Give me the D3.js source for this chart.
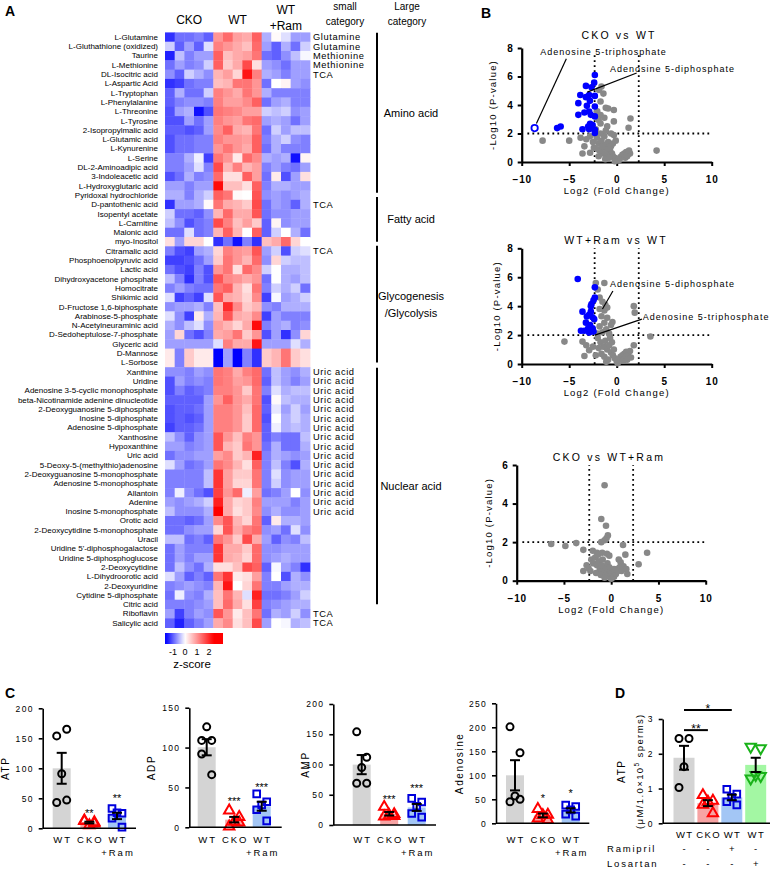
<!DOCTYPE html>
<html>
<head>
<meta charset="utf-8">
<script src="https://cdn.jsdelivr.net/npm/d3@7"></script>
<style>
  body { margin: 0; background: #fff; }
  text { font-family: "Liberation Sans", Arial, sans-serif; fill: #000; }
</style>
</head>
<body>
<svg id="fig" width="775" height="875"></svg>
<script>
// ---------- data: heatmap (A) ----------
const metabolites = [
  "L-Glutamine", "L-Gluthathione (oxidized)", "Taurine", "L-Methionine", "DL-Isocitric acid",
  "L-Aspartic Acid", "L-Tryptophan", "L-Phenylalanine", "L-Threonine", "L-Tyrosine",
  "2-Isopropylmalic acid", "L-Glutamic acid", "L-Kynurenine", "L-Serine", "DL-2-Aminoadipic acid",
  "3-Indoleacetic acid", "L-Hydroxyglutaric acid", "Pyridoxal hydrochloride", "D-pantothenic acid",
  "Isopentyl acetate", "L-Carnitine", "Malonic acid", "myo-Inositol", "Citramalic acid",
  "Phosphoenolpyruvic acid", "Lactic acid", "Dihydroxyacetone phosphate", "Homocitrate",
  "Shikimic acid", "D-Fructose 1,6-biphosphate", "Arabinose-5-phosphate", "N-Acetylneuraminic acid",
  "D-Sedoheptulose-7-phosphate", "Glyceric acid", "D-Mannose", "L-Sorbose", "Xanthine", "Uridine",
  "Adenosine 3-5-cyclic monophosphate", "beta-Nicotinamide adenine dinucleotide",
  "2-Deoxyguanosine 5-diphosphate", "Inosine 5-diphosphate", "Adenosine 5-diphosphate", "Xanthosine",
  "Hypoxanthine", "Uric acid", "5-Deoxy-5-(methylthio)adenosine", "2-Deoxyguanosine 5-monophosphate",
  "Adenosine 5-monophosphate", "Allantoin", "Adenine", "Inosine 5-monophosphate", "Orotic acid",
  "2-Deoxycytidine 5-monophosphate", "Uracil", "Uridine 5'-diphosphogalactose",
  "Uridine 5-diphosphoglucose", "2-Deoxycytidine", "L-Dihydroorotic acid", "2-Deoxyuridine",
  "Cytidine 5-diphosphate", "Citric acid", "Riboflavin", "Salicylic acid"
];

const smallCategory = [
  "Glutamine", "Glutamine", "Methionine", "Methionine", "TCA", "", "", "", "", "", "", "", "", "", "", "", "", "",
  "TCA", "", "", "", "", "TCA", "", "", "", "", "", "", "", "", "", "", "", "",
  "Uric acid", "Uric acid", "Uric acid", "Uric acid", "Uric acid", "Uric acid", "Uric acid", "Uric acid",
  "Uric acid", "Uric acid", "Uric acid", "Uric acid", "Uric acid", "Uric acid", "Uric acid", "Uric acid",
  "", "", "", "", "", "", "", "", "", "", "TCA", "TCA"
];

// spans in row units (row index of start / end of the bracket line)
const largeCategory = [
  { label: ["Amino acid"], from: -0.45, to: 16.75 },
  { label: ["Fatty acid"], from: 17.2, to: 22.0 },
  { label: ["Glycogenesis", "/Glycolysis"], from: 22.45, to: 35.0 },
  { label: ["Nuclear acid"], from: 35.55, to: 61.0 }
];

const sampleGroups = ["CKO", "WT", "WT+Ram"];

// z-scores, 5 CKO | 5 WT | 5 WT+Ram
const zScores = [
  [-1.3,-0.9,-0.9,-0.8,-1.0, 1.0,1.4,0.9,0.8,1.5, -0.5,0.05,-0.2,-0.6,-0.6],
  [-0.3,-1.0,-0.6,-1.0,-0.2, 1.2,1.0,0.8,0.6,1.4, -0.6,-1.0,-0.5,-0.9,-0.3],
  [-1.4,-0.4,-0.8,-0.6,-0.6, 1.5,0.6,0.8,0.9,1.3, -0.9,-1.0,-0.7,-0.4,-0.05],
  [-0.9,-0.6,-0.8,-0.7,-0.3, 1.5,0.5,0.8,1.7,0.3, -0.6,-0.7,-0.9,-0.6,-0.6],
  [-0.7,-1.0,-0.3,-0.5,-0.7, 0.7,0.9,0.4,2.2,1.2, -0.5,-0.6,-0.8,-0.6,-0.6],
  [-1.3,-1.2,-0.9,-0.8,-0.8, 0.6,0.7,1.3,1.3,1.0, -0.9,0.0,0.1,-0.6,-0.7],
  [-1.0,-0.5,-0.9,-0.9,-0.3, 1.2,1.0,0.8,1.3,1.0, -0.5,-0.8,-0.8,-0.8,-0.8],
  [-1.0,-0.8,-0.7,-0.7,-0.8, 1.2,0.9,0.9,1.1,1.5, -0.9,-0.6,-0.5,-0.8,-0.8],
  [-1.1,-0.6,-0.5,-1.5,-1.1, 1.3,1.2,1.1,0.9,0.9, -0.3,-0.4,-0.3,-0.7,-0.6],
  [-1.1,-1.1,-0.6,-0.9,-0.6, 1.2,1.0,0.9,1.3,1.4, -0.6,-0.5,-0.6,-0.9,-0.6],
  [-1.0,-1.0,-1.1,-1.0,-0.6, 1.1,1.5,0.8,0.7,1.3, -0.9,-0.3,-0.6,-0.4,-0.4],
  [-1.1,-0.9,-0.9,-0.8,-0.8, 1.2,1.0,1.0,0.9,1.5, -0.8,-0.5,-0.3,-0.7,-0.8],
  [-1.1,-0.9,-0.9,-0.8,-0.8, 1.0,1.3,1.0,0.8,1.5, -0.9,-0.5,-0.8,-0.8,-0.8],
  [-0.8,-0.8,-0.5,-0.1,-1.2, 1.3,1.0,0.2,1.4,1.1, -0.5,-0.6,-0.5,-1.5,0.1],
  [-0.8,-0.8,-0.6,-0.2,-0.8, 1.7,0.7,1.2,0.7,0.9, -0.8,-0.6,-0.8,-0.9,-0.6],
  [-1.1,-0.9,-0.5,-0.8,-0.7, 1.4,0.3,0.3,1.5,0.9, -0.9,0.2,-1.1,-0.6,0.3],
  [-0.6,-0.6,-0.8,-0.6,-0.6, 2.3,0.6,0.6,0.3,1.5, -0.8,-0.5,-0.5,-0.6,-0.6],
  [-0.5,-0.5,-0.8,-0.5,-0.3, 1.5,1.3,0.05,0.0,1.6, -0.7,-0.6,-0.7,-0.6,-0.5],
  [-1.3,-0.6,-0.6,-0.5,0.05, 1.3,0.8,0.7,0.5,1.7, -0.9,-0.6,-0.7,-1.0,-0.5],
  [-0.3,-0.9,-0.9,-1.0,-0.7, 0.7,1.4,0.8,0.8,1.6, -0.9,-0.7,-0.7,-0.6,-0.6],
  [-0.4,-0.7,-1.1,-0.9,-0.8, 1.7,1.2,0.6,0.9,0.5, -1.0,0.1,-0.7,-0.6,-0.6],
  [-0.9,-0.9,-0.2,-0.9,-0.8, 0.7,1.5,0.7,0.0,1.5, -1.0,-0.3,0.0,-0.5,-0.9],
  [0.3,-0.6,0.4,0.4,0.0, -1.3,-0.9,-1.5,-0.8,-1.3, 0.6,0.8,1.4,0.4,0.0],
  [-0.8,-1.1,-1.2,-0.6,-0.5, 0.4,1.2,1.0,0.9,1.6, -0.6,-0.3,-1.1,-0.3,-0.2],
  [-1.2,-1.2,-1.1,-0.9,-0.6, 0.5,1.3,1.0,0.7,1.4, -0.7,0.4,-0.3,-0.4,-0.4],
  [-0.9,-1.1,-1.2,-0.8,-1.1, 1.0,1.3,0.3,1.4,1.1, -0.3,0.0,-0.5,-0.5,-0.4],
  [-0.4,-0.8,-1.3,-0.8,-1.1, 1.6,1.1,1.0,0.8,1.0, -0.9,0.0,-0.5,-0.6,-0.4],
  [-0.8,-0.6,-0.8,-0.9,-0.9, 1.3,1.5,0.7,0.3,1.3, -0.8,-0.3,-0.5,-0.3,-0.9],
  [-0.2,-1.2,-1.0,-1.2,-0.2, 1.6,0.8,0.7,0.4,1.1, -1.2,-0.05,-0.6,-0.5,-0.3],
  [-0.7,-0.6,-0.6,-0.5,-0.8, 0.6,2.0,1.1,0.5,0.7, -0.7,-0.8,-0.5,-0.5,-0.5],
  [-0.2,-0.7,-1.2,0.2,-0.5, 0.7,1.6,0.8,0.7,1.1, -1.2,-0.6,-0.8,-0.8,-0.8],
  [-0.5,-0.7,-0.4,-0.2,-0.7, 0.9,0.7,0.4,0.8,2.3, -0.8,-0.6,-0.5,-0.8,-0.7],
  [-0.6,0.4,-0.9,-1.1,-0.8, 0.8,0.9,1.3,0.5,1.0, -1.1,-0.6,-1.3,-0.7,0.4],
  [-0.6,-0.6,-0.6,-0.6,-0.6, -0.2,1.2,0.8,0.8,2.2, -0.6,-0.6,-0.6,-0.2,-0.5],
  [0.2,-0.8,0.5,0.2,0.2, -1.7,-0.6,-1.6,-0.8,-1.3, 0.5,0.7,1.3,0.5,0.3],
  [0.2,-0.8,0.5,0.2,0.2, -1.7,-0.6,-1.6,-0.8,-1.3, 0.5,0.7,1.3,0.5,0.3],
  [-0.7,-0.7,-0.8,-0.6,-0.7, 1.3,1.2,0.8,1.2,1.4, -0.9,-0.4,-0.6,-0.7,-0.5],
  [-1.1,-0.6,-0.8,-0.7,-0.8, 1.3,1.2,0.9,1.0,1.4, -1.0,-0.4,-0.6,-0.8,-0.6],
  [-1.1,-0.8,-1.0,-0.9,-0.8, 1.2,1.2,1.0,0.5,1.3, -0.8,-0.2,-0.5,-0.4,-0.4],
  [-1.0,-1.0,-1.0,-1.0,-0.6, 1.0,1.5,1.0,0.8,1.3, -1.1,0.05,-0.4,-0.5,-0.5],
  [-1.1,-1.0,-1.0,-0.9,-0.6, 1.2,1.2,1.0,0.6,1.4, -1.0,-0.15,-0.6,-0.3,-0.6],
  [-1.1,-1.0,-1.1,-1.0,-0.6, 1.2,1.2,1.0,0.5,1.4, -1.1,0.0,-0.5,-0.3,-0.5],
  [-1.2,-1.0,-1.0,-0.9,-0.6, 1.2,1.2,1.0,0.5,1.4, -1.0,-0.1,-0.5,-0.4,-0.5],
  [-0.4,-0.7,-1.0,-0.7,-0.6, 1.6,1.0,0.6,1.2,1.0, -1.0,-0.8,-0.9,-0.9,-0.4],
  [-0.6,-0.6,-0.8,-0.7,-0.6, 1.6,0.7,0.5,1.3,1.0, -0.9,-0.5,-0.9,-0.9,-0.5],
  [-0.9,-0.7,-0.7,-0.6,-0.6, 0.9,1.1,0.5,0.7,2.1, -0.8,-0.5,-0.6,-0.7,-0.6],
  [-0.2,-0.6,-0.9,-0.8,-0.6, 1.3,1.1,0.7,0.3,1.5, -0.8,-0.4,-0.8,-1.1,-0.5],
  [-0.8,-0.8,-0.8,-0.8,-0.4, 1.9,0.9,0.5,0.5,1.3, -0.8,-0.2,-0.7,-0.6,-0.6],
  [-0.8,-0.8,-0.8,-0.8,-0.4, 1.9,0.9,0.4,0.4,1.3, -0.8,-0.3,-0.7,-0.6,-0.6],
  [-0.8,-0.1,-0.7,-0.9,-1.1, 1.8,1.0,1.4,-0.1,0.9, -0.9,-0.8,-0.6,0.0,-0.7],
  [-0.6,-0.7,-0.6,-0.5,-0.3, 2.1,0.8,0.4,0.5,1.2, -0.6,-0.6,-0.6,-0.8,-0.6],
  [-0.4,-0.7,-0.7,-0.7,-0.5, 2.4,0.8,0.3,0.5,1.1, -0.7,-0.5,-0.7,-0.7,-0.6],
  [-0.9,-0.9,-1.0,-0.9,-0.6, 1.1,1.6,0.7,0.4,1.3, -1.0,0.2,-0.5,-0.5,-0.6],
  [-0.9,-0.9,-0.7,-0.6,-0.6, 0.4,1.6,0.8,1.2,1.4, -0.7,-0.6,-0.9,-0.2,-0.7],
  [-0.4,-0.4,-0.9,-0.8,-1.0, 1.3,1.0,0.5,1.7,0.8, -0.6,-1.0,-0.7,-0.8,-0.4],
  [-0.9,-0.6,-0.8,-0.8,-0.8, 1.9,0.8,0.8,0.5,1.4, -0.7,-0.7,-0.6,-0.6,-0.6],
  [-0.9,-0.6,-0.8,-0.6,-0.6, 1.9,0.8,0.7,0.4,1.4, -0.7,-0.6,-0.5,-0.6,-0.6],
  [-0.9,-0.4,-0.7,-0.9,-0.5, 0.3,0.3,0.6,1.7,1.5, -1.0,-0.05,-0.6,-0.8,-1.3],
  [-0.2,-0.6,-1.0,-0.8,-1.0, 1.3,1.9,0.2,0.3,0.9, -0.8,0.0,-1.1,-0.5,-0.7],
  [-0.8,-0.7,-0.6,-0.7,-0.8, 0.7,2.2,0.0,0.4,1.3, -0.8,-0.8,-0.6,-0.5,-0.5],
  [-0.9,-0.1,-0.7,-0.8,-0.5, 0.6,1.3,0.7,-0.2,2.1, -0.9,-0.9,-0.8,-0.6,-0.3],
  [-0.8,-0.8,-0.8,-0.7,-0.6, 0.6,1.4,0.8,0.3,1.8, -0.8,-0.7,-0.6,-0.5,-0.5],
  [-0.6,-1.2,-0.8,-0.6,-0.7, 1.6,1.0,0.2,0.6,1.3, -0.9,-0.5,-0.6,-0.3,-0.7],
  [-1.0,-1.4,-1.0,-0.8,-0.6, 0.8,1.1,0.3,0.6,1.7, -0.6,0.0,-0.05,-0.5,-0.4]
];
const zTicks = [-1, 0, 1, 2];

// ---------- data: volcano plots (B), [log2FC, -log10 P] ----------
const cut = Math.log2(5);
const v1Sig = [[-2.3,6.1],[-2.37,5.57],[-2.65,5.24],[-3.24,5.34],[-2.9,4.7],[-3.83,4.7],[-3.24,4.55],[-2.3,4.64],
  [-2.82,4.29],[-4.04,4.13],[-2.3,3.9],[-3.14,3.94],[-2.9,3.54],[-3.4,3.47],[-4.04,3.31],[-2.72,3.31],[-2.3,3.2],
  [-2.8,2.68],[-3.0,2.49],[-2.54,2.6],[-3.6,2.3],[-2.9,2.3],[-2.3,2.26],[-2.3,2.03],[-5.9,2.49],[-6.27,2.38]];
const v1Other = [[-1.6,5.3],[-1.85,5.05],[-1.4,4.8],[-1.7,4.25],[-1.15,3.8],[-0.9,3.75],[-0.3,3.65],[-2.05,3.55],
  [-1.7,3.3],[-1.9,2.95],[-1.3,3.1],[1.45,3.05],[1.25,2.4],[-0.3,2.85],[-1.7,2.7],[-1.15,2.2],[-7.8,1.5],[-5.0,1.5],
  [-3.8,1.7],[-3.2,1.6],[-2.8,1.8],[-3.4,1.1],[-3.6,0.6],[-2.8,0.65],[4.2,0.8],[-2.1,1.7],[-1.9,1.3],[-1.6,1.5],
  [-1.4,1.0],[-1.2,1.2],[-1.0,0.9],[-0.9,1.4],[-0.7,0.8],[-0.5,0.6],[-0.4,0.4],[-0.2,0.3],[0.0,0.1],[0.2,0.2],
  [0.4,0.35],[0.6,0.5],[0.8,0.6],[1.0,0.7],[1.2,0.55],[1.4,0.6],[1.3,0.8],[-1.8,0.8],[-1.5,0.6],[-2.0,0.9],
  [-1.1,0.5],[-0.8,0.3],[-0.6,1.1],[-0.3,1.9],[-0.1,1.5],[-1.3,1.8],[-1.7,2.0],[-2.2,2.3],[-1.0,2.5],[-0.6,2.0],
  [-0.4,1.3],[-1.5,1.1],[0.3,0.15],[-0.2,0.05],[0.9,0.3],[1.1,0.4],[-2.4,1.0],[-2.5,1.4],[-1.2,0.2],[-1.9,0.4]];
const v1Atp = [-8.64, 2.38];

const v2Sig = [[-4.1,5.88],[-2.3,5.3],[-2.3,4.6],[-2.44,4.4],[-2.65,4.15],[-2.72,4.0],[-3.6,3.62],[-2.72,3.62],
  [-2.9,3.4],[-3.14,3.28],[-2.54,3.23],[-2.37,3.1],[-3.24,2.86],[-2.8,2.7],[-3.0,2.47],[-2.54,2.47],[-3.76,2.3],
  [-3.4,2.3],[-2.9,2.17],[-2.44,2.24]];
const v2Other = [[-2.2,5.6],[-1.3,5.6],[-2.0,5.15],[-1.8,4.6],[-1.5,4.3],[-1.2,4.1],[-1.8,3.8],[-1.3,3.7],[-1.0,3.9],
  [-1.6,3.3],[-1.0,3.2],[-0.45,2.9],[-1.3,2.85],[-0.6,2.7],[-1.8,2.6],[1.8,4.0],[1.9,3.55],[3.55,1.9],[-5.5,1.55],
  [-3.6,1.55],[-3.2,1.3],[-2.9,0.95],[-3.4,0.55],[-2.5,1.2],[1.8,1.3],[-2.0,2.1],[-1.5,2.2],[-1.1,2.4],[-0.8,2.1],
  [-2.0,1.8],[-1.7,1.5],[-1.4,1.2],[-1.2,1.6],[-1.0,1.0],[-0.8,1.3],[-0.6,0.8],[-0.4,0.6],[-0.2,0.4],[0.0,0.2],
  [0.2,0.3],[0.4,0.5],[0.6,0.6],[0.8,0.7],[1.0,0.85],[1.2,0.6],[1.4,0.9],[-1.6,0.7],[-1.3,0.5],[-1.9,1.1],
  [-0.9,0.3],[-0.5,1.5],[-0.3,1.0],[0.1,0.05],[0.7,0.25],[1.1,0.3],[-2.2,0.6],[-1.1,0.15],[1.5,0.45],[-0.7,1.8]];

const v3Other = [[-0.7,4.95],[-1.05,3.2],[-0.55,2.85],[-0.35,2.35],[-0.5,2.2],[-0.7,2.1],[-1.05,2.0],[-6.35,1.9],
  [-4.85,1.8],[-3.7,1.95],[-2.95,1.6],[3.8,1.45],[1.25,1.85],[2.9,0.85],[-2.95,0.5],[-2.6,0.8],[-2.4,0.65],[1.5,1.35],
  [-1.95,1.55],[-1.5,1.45],[-0.95,1.45],[-0.45,1.4],[-0.2,1.3],[0.8,1.1],[1.0,0.95],[1.3,0.75],[1.6,0.6],[1.7,0.35],
  [-2.1,1.1],[-1.9,0.9],[-1.7,1.2],[-1.5,0.8],[-1.3,1.0],[-1.2,0.6],[-1.0,0.8],[-0.9,1.1],[-0.8,0.5],[-0.6,0.7],
  [-0.5,0.4],[-0.4,0.9],[-0.3,0.3],[-0.2,0.2],[-0.1,0.5],[0.0,0.1],[0.1,0.15],[0.2,0.3],[0.3,0.2],[0.4,0.45],
  [0.5,0.35],[0.6,0.6],[0.7,0.5],[0.9,0.7],[1.1,0.5],[-1.6,0.4],[-1.1,0.3],[-0.7,0.15],[-2.2,0.5],[-1.4,1.35],
  [0.3,0.6],[-0.2,0.7]];

// annotation: label anchor [x,y] and pointer end [x,y], data units
const v1Notes = [
  { text: "Adenosine 5-triphosphate", at: [-8.05, 7.5], from: [-5.3, 7.25], to: [-8.45, 2.7] },
  { text: "Adenosine 5-diphosphate", at: [-0.7, 6.3], from: [2.1, 6.25], to: [-3.1, 4.9] }
];
const v2Notes = [
  { text: "Adenosine 5-diphosphate", at: [-0.7, 5.3], from: [-0.4, 5.05], to: [-1.5, 3.8] },
  { text: "Adenosine 5-triphosphate", at: [2.75, 3.05], from: [2.65, 3.1], to: [-2.3, 2.0] }
];

// ---------- data: nucleotide bar charts (C, D) ----------
const atpWT = [154, 165, 91, 43, 47], atpCKO = [13, 10, 5, 12, 8], atpRam = [33, 25, 26, 17, 2];
const adpWT = [109, 109, 126, 92, 66], adpCKO = [21, 13, 7, 1, 6], adpRam = [42, 32, 28, 22, 8];
const ampWT = [154, 112, 95, 69, 69], ampCKO = [30, 18, 16, 14, 15], ampRam = [44, 38, 31, 19, 13];
const adoWT = [201, 147, 57, 45, 50], adoCKO = [30, 18, 17, 10, 7], adoRam = [38, 35, 28, 19, 15];
const dWT = [2.44, 2.44, 1.63, 1.03], dCKO = [0.81, 0.65, 0.62, 0.53, 0.29],
      dRam = [0.98, 0.84, 0.75, 0.62, 0.53], dLos = [2.2, 2.16, 1.39, 1.29, 1.36];
const ramipril = ["-", "-", "+", "-"], losartan = ["-", "-", "-", "+"];

// ---------- drawing ----------
const svg = d3.select("#fig");
svg.append("rect").attr("width", 775).attr("height", 875).attr("fill", "#fff");

function panelLetter(t, x, y) {
  svg.append("text").attr("x", x).attr("y", y).attr("font-size", 14).attr("font-weight", "bold").text(t);
}
panelLetter("A", 5, 16); panelLetter("B", 481, 18); panelLetter("C", 5, 698); panelLetter("D", 615, 698);

// ===== A: heatmap =====
const rowY = d3.scaleBand().domain(d3.range(metabolites.length)).range([32.4, 627.6]);
const colX = d3.scaleBand().domain(d3.range(15)).range([165, 310]);
const zColor = d3.scaleLinear().domain([-1.6, 0, 2.4]).range(["#0000ff", "#ffffff", "#ff0000"]).clamp(true);

const hm = svg.append("g");
hm.selectAll("g.row").data(zScores).join("g")
  .attr("transform", (d, i) => `translate(0,${rowY(i)})`)
  .selectAll("rect").data(d => d).join("rect")
  .attr("x", (d, j) => colX(j)).attr("width", colX.bandwidth() + 0.4)
  .attr("height", rowY.bandwidth() + 0.4).attr("fill", d => zColor(d));

hm.selectAll("text.lab").data(metabolites).join("text")
  .attr("x", 158).attr("y", (d, i) => rowY(i) + rowY.bandwidth() / 2).attr("dy", "0.35em")
  .attr("text-anchor", "end").attr("font-size", 8).text(d => d);

hm.selectAll("text.sc").data(smallCategory).join("text")
  .attr("x", 313).attr("y", (d, i) => rowY(i) + rowY.bandwidth() / 2).attr("dy", "0.36em")
  .attr("font-size", 9.3).attr("letter-spacing", 0.6).text(d => d);

// group headers
const hdr = [["CKO"], ["WT"], ["WT", "+Ram"]];
sampleGroups.forEach((g, k) => {
  const cx = colX(k * 5) + colX.bandwidth() * 2.5;
  const lines = hdr[k];
  lines.forEach((l, m) => {
    svg.append("text").attr("x", cx).attr("y", lines.length === 1 ? 24 : 14 + m * 16)
      .attr("text-anchor", "middle").attr("font-size", 12).text(l);
  });
});
[["small", "category", 345], ["Large", "category", 407]].forEach(([a, b, x]) => {
  svg.append("text").attr("x", x).attr("y", 10).attr("text-anchor", "middle").attr("font-size", 10).text(a);
  svg.append("text").attr("x", x).attr("y", 25).attr("text-anchor", "middle").attr("font-size", 10).text(b);
});

// large category brackets
const rowPos = v => rowY(0) + (v + 0.5) * rowY.step();
largeCategory.forEach(c => {
  const y1 = rowPos(c.from), y2 = rowPos(c.to);
  svg.append("line").attr("x1", 377).attr("x2", 377).attr("y1", y1).attr("y2", y2)
    .attr("stroke", "#000").attr("stroke-width", 2);
  const mid = (y1 + y2) / 2;
  c.label.forEach((l, m) => {
    svg.append("text").attr("x", 411).attr("y", mid + 4 + (m - (c.label.length - 1) / 2) * 17)
      .attr("text-anchor", "middle").attr("font-size", 11).text(l);
  });
});

// colour bar
const cbX = d3.scaleLinear().domain([-1.67, 3.17]).range([165, 223]);
const grad = svg.append("defs").append("linearGradient").attr("id", "zgrad");
d3.range(0, 1.0001, 0.05).forEach(t => {
  grad.append("stop").attr("offset", t).attr("stop-color", zColor(cbX.invert(165 + t * 58)));
});
svg.append("rect").attr("x", 165).attr("y", 633).attr("width", 58).attr("height", 11).attr("fill", "url(#zgrad)");
svg.selectAll("text.zt").data(zTicks).join("text")
  .attr("x", d => cbX(d)).attr("y", 655).attr("text-anchor", "middle").attr("font-size", 9).text(d => d);
svg.append("text").attr("x", 192).attr("y", 668).attr("text-anchor", "middle").attr("font-size", 11.5).text("z-score");

// ===== B: volcano plots =====
function volcano(cfg) {
  const x = d3.scaleLinear().domain([-10, 10]).range([cfg.x0, cfg.x1]);
  const y = d3.scaleLinear().domain([0, cfg.ymax]).range([cfg.y0, cfg.yTop]);
  const g = svg.append("g");
  const dotted = sel => sel.attr("stroke", "#000").attr("stroke-width", 1.8).attr("stroke-dasharray", "1.8,3.2");

  g.append("line").attr("x1", x(-9.4)).attr("x2", x(10)).attr("y1", y(2)).attr("y2", y(2)).call(dotted);
  [-cut, cut].forEach(v => g.append("line").attr("x1", x(v)).attr("x2", x(v))
    .attr("y1", y(0)).attr("y2", y(cfg.vTop)).call(dotted));

  const xa = g.append("g").attr("transform", `translate(0,${cfg.y0})`)
    .call(d3.axisBottom(x).tickValues([-10, -5, 0, 5, 10]).tickSize(4).tickSizeOuter(0).tickPadding(10));
  const ya = g.append("g").attr("transform", `translate(${cfg.x0},0)`)
    .call(d3.axisLeft(y).ticks(cfg.ymax / 2).tickSize(4).tickSizeOuter(0).tickPadding(4));
  [xa, ya].forEach(a => {
    a.select(".domain").attr("stroke-width", 2.2);
    a.selectAll(".tick line").attr("stroke-width", 2);
    a.selectAll("text").attr("font-size", 10).attr("font-weight", "bold")
      .attr("font-family", "Liberation Sans, Arial").attr("letter-spacing", 0.8);
  });

  g.selectAll("circle.o").data(cfg.other).join("circle")
    .attr("cx", d => x(d[0])).attr("cy", d => y(d[1])).attr("r", 3.3).attr("fill", "#888888");
  g.selectAll("circle.s").data(cfg.sig).join("circle")
    .attr("cx", d => x(d[0])).attr("cy", d => y(d[1])).attr("r", 3.3).attr("fill", "#0000ff");
  if (cfg.open) {
    g.append("circle").attr("cx", x(cfg.open[0])).attr("cy", y(cfg.open[1])).attr("r", 3.2)
      .attr("fill", "#fff").attr("stroke", "#0000ff").attr("stroke-width", 1.8);
  }
  (cfg.notes || []).forEach(n => {
    g.append("line").attr("x1", x(n.from[0])).attr("y1", y(n.from[1])).attr("x2", x(n.to[0])).attr("y2", y(n.to[1]))
      .attr("stroke", "#000").attr("stroke-width", 1.2);
    g.append("text").attr("x", x(n.at[0])).attr("y", y(n.at[1])).attr("font-size", 9)
      .attr("letter-spacing", 1).text(n.text);
  });

  g.append("text").attr("x", cfg.titleX).attr("y", cfg.titleY).attr("text-anchor", "middle")
    .attr("font-size", 10.5).attr("letter-spacing", 2.2).text(cfg.title);
  g.append("text").attr("x", x(0)).attr("y", cfg.y0 + 32).attr("text-anchor", "middle")
    .attr("font-size", 9.5).attr("letter-spacing", 1.2).text("Log2 (Fold Change)");
  g.append("text").attr("transform", `translate(${cfg.labX},${(cfg.y0 + cfg.yTop) / 2}) rotate(-90)`)
    .attr("text-anchor", "middle").attr("font-size", 9.5).attr("letter-spacing", 1.2).text("-Log10 (P-value)");
}

volcano({ title: "CKO vs WT", titleX: 619, titleY: 39, x0: 521.7, x1: 711.7, y0: 162, yTop: 48, ymax: 8, vTop: 7.5,
  sig: v1Sig, other: v1Other, open: v1Atp, notes: v1Notes, labX: 495.5 });
volcano({ title: "WT+Ram vs WT", titleX: 616, titleY: 244, x0: 521.7, x1: 711.7, y0: 364, yTop: 248.3, ymax: 8, vTop: 8,
  sig: v2Sig, other: v2Other, notes: v2Notes, labX: 500 });
volcano({ title: "CKO vs WT+Ram", titleX: 609, titleY: 461, x0: 516.7, x1: 705.7, y0: 580.7, yTop: 465, ymax: 6, vTop: 6,
  sig: [], other: v3Other, labX: 492 });

// ===== C / D: bar charts =====
const jitter = [-5, 5, 0, -5, 5];
const groupStyle = {
  WT:  { fill: "#d4d4d4", stroke: "#000000", shape: "circle" },
  CKO: { fill: "#f7a3a3", stroke: "#ff0000", shape: "triangle" },
  Ram: { fill: "#a3c6f5", stroke: "#0000dd", shape: "square" },
  Los: { fill: "#a3f7a3", stroke: "#19b219", shape: "down" }
};

function marker(g, shape, cx, cy, color) {
  if (shape === "circle") {
    g.append("circle").attr("cx", cx).attr("cy", cy).attr("r", 3.5).attr("fill", "none")
      .attr("stroke", color).attr("stroke-width", 2);
    return;
  }
  const type = shape === "square" ? d3.symbolSquare : d3.symbolTriangle;
  g.append("path").attr("d", d3.symbol().type(type).size(shape === "square" ? 44 : 46)())
    .attr("transform", `translate(${cx},${cy})${shape === "down" ? " rotate(180)" : ""}`)
    .attr("fill", "none").attr("stroke", color).attr("stroke-width", 2);
}

function barChart(c) {
  const y = d3.scaleLinear().domain([0, c.max]).range([c.y0, c.yTop]);
  const x = d3.scalePoint().domain(d3.range(c.series.length)).range([c.c0, c.c1]);
  const g = svg.append("g");
  const ls = c.labSpacing == null ? 2 : c.labSpacing;

  c.series.forEach((s, i) => {
    const st = groupStyle[s.key];
    const m = d3.mean(s.values), se = d3.deviation(s.values) / Math.sqrt(s.values.length);
    const cx = x(i);
    g.append("rect").attr("x", cx - c.bw / 2).attr("width", c.bw).attr("y", y(m)).attr("height", y(0) - y(m))
      .attr("fill", st.fill);
    s.values.forEach((v, k) => marker(g, st.shape, cx + jitter[k], y(v), st.stroke));
    g.append("line").attr("x1", cx).attr("x2", cx).attr("y1", y(m - se)).attr("y2", y(m + se))
      .attr("stroke", "#000").attr("stroke-width", 2);
    [m - se, m + se].forEach(v => g.append("line").attr("x1", cx - 5).attr("x2", cx + 5)
      .attr("y1", y(v)).attr("y2", y(v)).attr("stroke", "#000").attr("stroke-width", 2));
    if (s.star) {
      g.append("text").attr("x", cx).attr("y", y(s.star[1])).attr("text-anchor", "middle")
        .attr("font-size", 11).text(s.star[0]);
    }
    s.label.forEach((l, k) => g.append("text").attr("x", cx + ls / 2).attr("y", c.labY + k * 12.5)
      .attr("text-anchor", "middle").attr("font-size", 9.5).attr("letter-spacing", ls).text(l));
  });

  const ya = g.append("g").attr("transform", `translate(${c.ax},0)`)
    .call(d3.axisLeft(y).tickValues(c.ticks).tickFormat(d3.format("d")).tickSize(4).tickSizeOuter(0).tickPadding(5));
  ya.select(".domain").attr("stroke-width", 1.6);
  ya.selectAll(".tick line").attr("stroke-width", 1.6);
  ya.selectAll("text").attr("font-size", 8.5).attr("letter-spacing", 1.3).attr("font-family", "Liberation Sans, Arial");
  g.append("line").attr("x1", c.ax).attr("x2", c.xEnd).attr("y1", y(0)).attr("y2", y(0))
    .attr("stroke", "#000").attr("stroke-width", 1.6);

  const lab = g.append("text").attr("transform", `translate(${c.labX},${(c.y0 + c.yTop) / 2}) rotate(-90)`)
    .attr("text-anchor", "middle").attr("font-size", 10).attr("letter-spacing", 1.6);
  lab.text(c.ylabel[0]);
  if (c.ylabel.length > 1) {
    const l2 = g.append("text").attr("transform", `translate(${c.labX + 18},${(c.y0 + c.yTop) / 2}) rotate(-90)`)
      .attr("text-anchor", "middle").attr("font-size", 9.5).attr("letter-spacing", 1.4);
    l2.append("tspan").text("(μM/1.0×10");
    l2.append("tspan").attr("font-size", 6.5).attr("dy", -4).text("5");
    l2.append("tspan").attr("dy", 4).text(" sperms)");
  }
  return { x, y, g };
}

const threeLabels = [["WT"], ["CKO"], ["WT", "+Ram"]];
const cCharts = [
  { ylabel: ["ATP"], labX: 9, ax: 42.7, xEnd: 136, y0: 828.3, yTop: 708.3, max: 200, ticks: [0, 50, 100, 150, 200],
    c0: 61.7, c1: 117, vals: [atpWT, atpCKO, atpRam], stars: [null, ["**", 19], ["**", 44]] },
  { ylabel: ["ADP"], labX: 155, ax: 189.3, xEnd: 281.7, y0: 827.3, yTop: 707.7, max: 150, ticks: [0, 50, 100, 150],
    c0: 206.7, c1: 261.7, vals: [adpWT, adpCKO, adpRam], stars: [null, ["***", 28], ["***", 45.5]] },
  { ylabel: ["AMP"], labX: 309, ax: 333.3, xEnd: 436, y0: 825, yTop: 704, max: 200, ticks: [0, 50, 100, 150, 200],
    c0: 361.7, c1: 416.7, vals: [ampWT, ampCKO, ampRam], stars: [null, ["***", 36], ["***", 54.5]] },
  { ylabel: ["Adenosine"], labX: 463, ax: 496, xEnd: 589.3, y0: 823.3, yTop: 703.3, max: 250,
    ticks: [0, 50, 100, 150, 200, 250], c0: 515, c1: 570.7, vals: [adoWT, adoCKO, adoRam],
    stars: [null, ["*", 44], ["*", 55]] }
];
cCharts.forEach(c => {
  barChart(Object.assign({ bw: 18, labY: 843,
    series: ["WT", "CKO", "Ram"].map((k, i) => ({ key: k, values: c.vals[i], star: c.stars[i], label: threeLabels[i] }))
  }, c));
});

// D
const dChart = barChart({ ylabel: ["ATP", "unit"], labX: 625, ax: 662.7, xEnd: 770, y0: 823.3, yTop: 719, max: 3,
  ticks: [0, 1, 2, 3], c0: 684, c1: 755.7, bw: 21, labY: 838, labSpacing: 1.4,
  series: [
    { key: "WT", values: dWT, label: ["WT"] },
    { key: "CKO", values: dCKO, label: ["CKO"] },
    { key: "Ram", values: dRam, label: ["WT"] },
    { key: "Los", values: dLos, label: ["WT"] }
  ] });
// significance brackets
[[0, 1, 2.68, "**"], [0, 2, 3.26, "*"]].forEach(([a, b, v, s]) => {
  const yy = dChart.y(v);
  dChart.g.append("line").attr("x1", dChart.x(a)).attr("x2", dChart.x(b)).attr("y1", yy).attr("y2", yy)
    .attr("stroke", "#000").attr("stroke-width", 2);
  dChart.g.append("text").attr("x", (dChart.x(a) + dChart.x(b)) / 2).attr("y", yy + 3)
    .attr("text-anchor", "middle").attr("font-size", 12).text(s);
});
[["Ramipril", ramipril, 852], ["Losartan", losartan, 867]].forEach(([name, signs, yy]) => {
  svg.append("text").attr("x", 607).attr("y", yy).attr("font-size", 9.5).attr("letter-spacing", 1.8).text(name);
  signs.forEach((s, i) => svg.append("text").attr("x", dChart.x(i)).attr("y", yy)
    .attr("text-anchor", "middle").attr("font-size", 9.5).text(s));
});
</script>
</body>
</html>
